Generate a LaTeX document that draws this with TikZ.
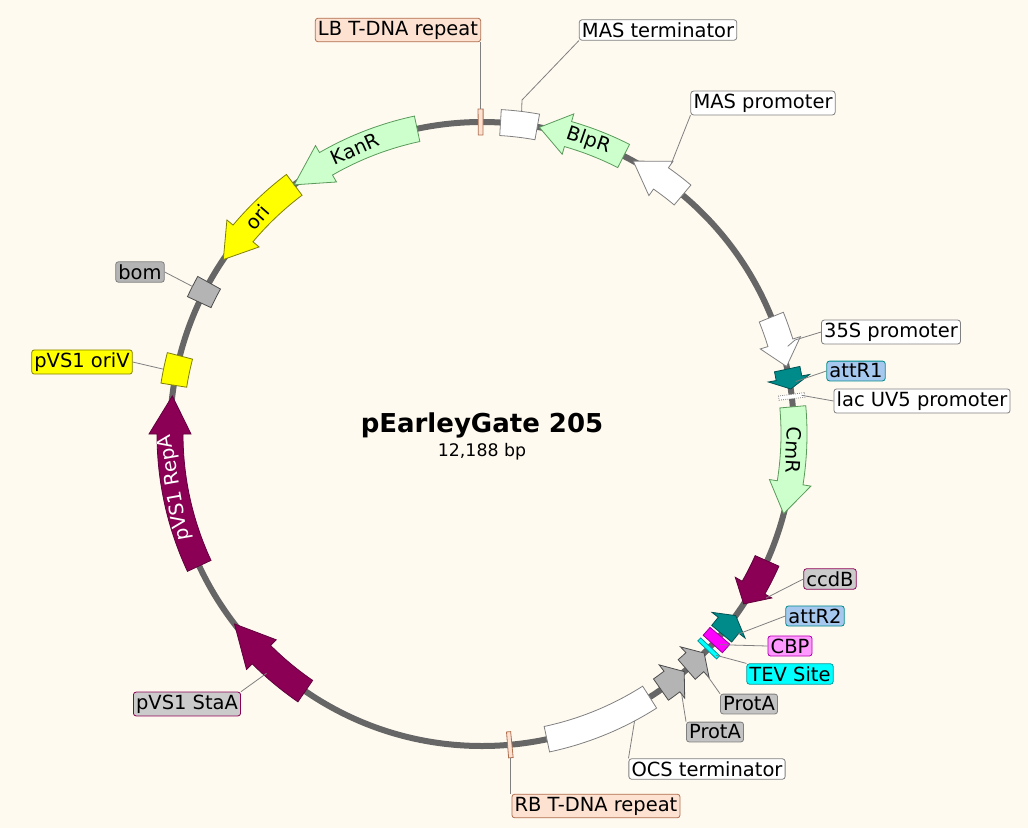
\documentclass[tikz,border=0pt]{standalone}
\usepackage{fontspec}
\setmainfont{DejaVu Sans}
\definecolor{bg}{HTML}{FFFAF0}
\definecolor{mint}{HTML}{CCFFCC}
\definecolor{mintd}{HTML}{5A9A5A}
\definecolor{peach}{HTML}{FDE2D2}
\definecolor{peachd}{HTML}{B07050}
\definecolor{maroon}{HTML}{8B0055}
\definecolor{teal2}{HTML}{008B8B}
\definecolor{lblue}{HTML}{A6C8EE}
\definecolor{lpink}{HTML}{FF99FF}
\definecolor{mag}{HTML}{FF00FF}
\definecolor{cyn}{HTML}{00FFFF}
\definecolor{ylw}{HTML}{FFFF00}
\definecolor{greyf}{HTML}{B4B4B4}
\definecolor{lineg}{HTML}{666666}
\newcommand\farr[4]{\draw[#4] (#1:325) arc[start angle=#1,end angle=#2,radius=325] -- (#2:333) -- (#3:312) -- (#2:291) -- (#2:299) arc[start angle=#2,end angle=#1,radius=299] -- cycle;}
\newcommand\fbx[3]{\draw[#3] (#1:325) arc[start angle=#1,end angle=#2,radius=325] -- (#2:299) arc[start angle=#2,end angle=#1,radius=299] -- cycle;}
\tikzset{
 lbl/.style={draw=#1,rounded corners=2pt,inner sep=2pt,font=\fontsize{14.6}{16}\selectfont,line width=0.6pt},
 lead/.style={draw=gray,line width=0.6pt},
 inl/.style={font=\fontsize{14.6}{16}\selectfont}
}
\begin{document}
\begin{tikzpicture}[x=0.75pt,y=-0.75pt]
\fill[bg] (0,0) rectangle (1028,828);
\useasboundingbox (0,0) rectangle (1028,828);
\begin{scope}[shift={(482,434)},line width=0.6pt]
\draw[lineg,line width=4.5pt] (0,0) circle[radius=312];
\fbx{-90.7}{-89.8}{fill=peach,draw=peachd}
\fbx{-86.6}{-79.8}{fill=white,draw=gray}
\farr{-63}{-74}{-79.4}{fill=mint,draw=mintd}
\farr{-50}{-55}{-61}{fill=white,draw=gray}
\farr{-22}{-17}{-12.5}{fill=white,draw=gray}
\farr{-12}{-10.3}{-8.3}{fill=teal2,draw=teal2!60!black}
\fbx{-7.3}{-6.5}{fill=white,draw=gray,densely dotted}
\farr{-5}{9}{14.8}{fill=mint,draw=mintd}
\farr{24}{29.5}{33}{fill=maroon,draw=maroon!70!black}
\farr{39.8}{37.8}{35.6}{fill=teal2,draw=teal2!60!black}
\fbx{40.3}{42.3}{fill=mag,draw=mag!60!black}
\fbx{43}{43.8}{fill=cyn,draw=cyn!60!black}
\farr{49}{47}{44.6}{fill=greyf,draw=gray!60!black}
\farr{55}{52.5}{49.6}{fill=greyf,draw=gray!60!black}
\fbx{57.5}{78}{fill=white,draw=gray}
\fbx{84.5}{85.3}{fill=peach,draw=peachd}
\farr{124.5}{135}{142.5}{fill=maroon,draw=maroon!70!black}
\farr{155}{180}{187}{fill=maroon,draw=maroon!70!black}
\fbx{189}{194.5}{fill=ylw,draw=ylw!50!black}
\fbx{205}{209}{fill=greyf,draw=gray!60!black}
\farr{233}{220}{214}{fill=ylw,draw=ylw!50!black}
\farr{258}{240}{233}{fill=mint,draw=mintd}
% inline labels
\node[inl,rotate=24] (tkan) at (246:312) {KanR};
\node[inl,rotate=49] (tori) at (224:312) {ori};
\node[inl,rotate=-19] (tblp) at (-70:312) {BlpR};
\node[inl,rotate=-93] (tcmr) at (3:312) {CmR};
\node[inl,rotate=100,text=white] (trep) at (170:312) {pVS1 RepA};
% feature anchor points
\coordinate (plb) at (-90.2:325);
\coordinate (pmt) at (-83:325);
\coordinate (pmp) at (-55:330);
\coordinate (p35) at (-16:318);
\coordinate (pa1) at (-9.5:318);
\coordinate (plac) at (-6.9:322);
\coordinate (pccd) at (30:328);
\coordinate (pa2) at (38:325);
\coordinate (pcbp) at (41.5:318);
\coordinate (ptev) at (43.4:322);
\coordinate (ppa1) at (47:330);
\coordinate (ppa2) at (52.5:328);
\coordinate (pocs) at (62:325);
\coordinate (prb) at (84.9:325);
\coordinate (psta) at (132:322);
\coordinate (pori) at (191.5:325);
\coordinate (pbom) at (207:325);
\end{scope}
\node[font=\fontsize{19.5}{22}\selectfont\bfseries] (title) at (482,425) {pEarleyGate 205};
\node[font=\fontsize{13}{15}\selectfont] (bp) at (482,452) {12,188 bp};
% labels
\node[lbl=peachd,fill=peach] (LB) at (398,30) {LB T-DNA repeat};
\node[lbl=gray,fill=white] (MT) at (658,30) {MAS terminator};
\node[lbl=gray,fill=white] (MP) at (763,103) {MAS promoter};
\node[lbl=gray,fill=white] (S35) at (891,332) {35S promoter};
\node[lbl=teal2,fill=lblue] (AR1) at (856,371) {attR1};
\node[lbl=gray,fill=white] (LAC) at (922,401) {lac UV5 promoter};
\node[lbl=maroon,fill=greyf!70] (CCD) at (830,579) {ccdB};
\node[lbl=teal2,fill=lblue] (AR2) at (815,616) {attR2};
\node[lbl=mag!70!black,fill=lpink] (CBP) at (790,646) {CBP};
\node[lbl=cyn!60!black,fill=cyn] (TEV) at (790,674) {TEV Site};
\node[lbl=gray,fill=greyf!80] (PA1) at (749,704) {ProtA};
\node[lbl=gray,fill=greyf!80] (PA2) at (715,732) {ProtA};
\node[lbl=gray,fill=white] (OCS) at (707,769) {OCS terminator};
\node[lbl=peachd,fill=peach] (RB) at (596,806) {RB T-DNA repeat};
\node[lbl=maroon,fill=greyf!70] (STA) at (187,704) {pVS1 StaA};
\node[lbl=ylw!50!black,fill=ylw] (ORV) at (82,362) {pVS1 oriV};
\node[lbl=gray,fill=greyf] (BOM) at (140,272) {bom};
% leaders
\draw[lead] (plb) -- (plb |- LB.south);
\draw[lead] (MT.south west) -- (522,100) -- (pmt);
\draw[lead] (MP.south west) -- (pmp);
\draw[lead] (S35.west) -- (795,340) -- (p35);
\draw[lead] (AR1.west) -- (pa1);
\draw[lead] (LAC.west) -- (plac);
\draw[lead] (CCD.west) -- (pccd);
\draw[lead] (AR2.west) -- (pa2);
\draw[lead] (CBP.west) -- (pcbp);
\draw[lead] (TEV.north west) -- (ptev);
\draw[lead] (PA1.north west) -- (ppa1);
\draw[lead] (PA2.north west) -- (ppa2);
\draw[lead] (OCS.north west) -- (pocs);
\draw[lead] (prb) -- (prb |- RB.north);
\draw[lead] (STA.north east) -- (psta);
\draw[lead] (ORV.east) -- (pori);
\draw[lead] (BOM.east) -- (pbom);
\end{tikzpicture}
\end{document}
